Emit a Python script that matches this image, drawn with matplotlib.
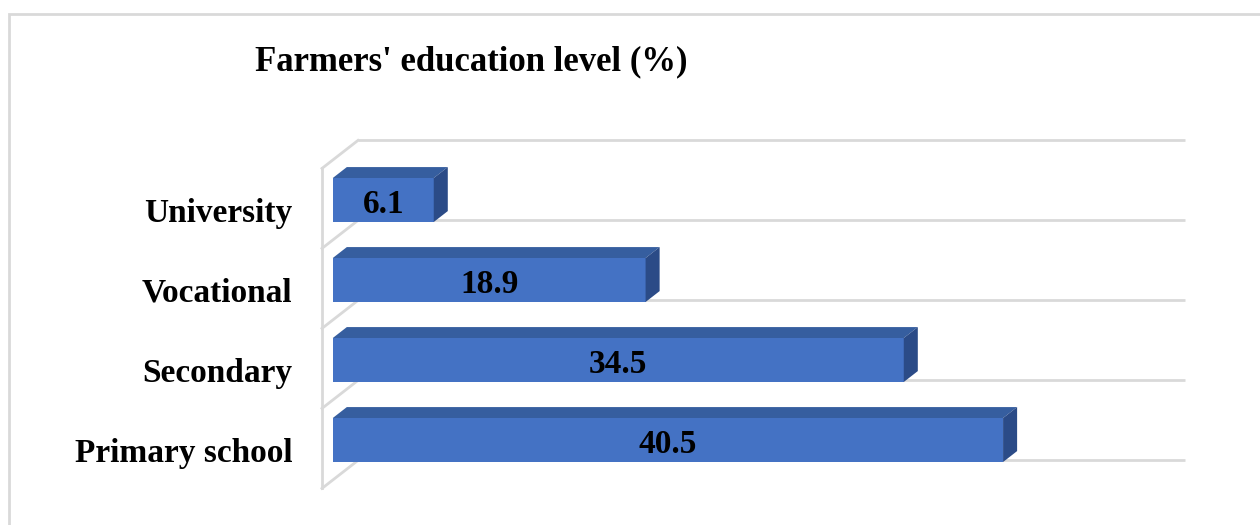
import matplotlib

matplotlib.use("Agg")
import matplotlib.pyplot as plt
from matplotlib.patches import Polygon, Rectangle

categories = ["Primary school", "Secondary", "Vocational", "University"]
values = [40.5, 34.5, 18.9, 6.1]
x_max = 50
title = "Farmers' education level (%)"

# pseudo 3D projection (data units): z=0 front wall, z=1 back wall
DX = 2.175
DY = 0.35
Z_FRONT = 0.30
Z_BACK = 0.69
BAR_H = 0.55

FRONT = "#4472C4"
TOP = "#365e9f"
SIDE = "#2b4b87"
GRID = "#d9d9d9"


def proj(x, y, z):
    return x + z * DX, y + z * DY


plt.rcParams["font.family"] = ["Liberation Serif", "DejaVu Serif"]
plt.rcParams["font.weight"] = "bold"

fig = plt.figure(figsize=(12.6, 5.25), dpi=100)
ax = fig.add_axes([0, 0, 1, 1])
ax.set_xlim(-19.456, 56.677)
ax.set_ylim(-0.9575, 5.605)
ax.axis("off")

# outer chart border
fig.patches.append(Rectangle((9 / 1260, -0.05), 1.2, 1 - 14 / 525 + 0.05,
                             transform=fig.transFigure, fill=False,
                             edgecolor=GRID, linewidth=2))

# gridlines: back wall + side wall
n = len(categories)
for k in range(n + 1):
    g = k - 0.5
    bx0, by0 = proj(0, g, 1)
    bx1, by1 = proj(x_max, g, 1)
    ax.plot([bx0, bx1], [by0, by1], color=GRID, lw=2, solid_capstyle="butt", zorder=1)
    fx, fy = proj(0, g, 0)
    ax.plot([fx, bx0], [fy, by0], color=GRID, lw=2, zorder=1)
x0, y0 = proj(0, -0.5, 0)
x1, y1 = proj(0, n - 0.5, 0)
ax.plot([x0, x1], [y0, y1], color=GRID, lw=2, zorder=1)

# bars
ypos = list(range(n))
fx0, fyo = proj(0, 0, Z_FRONT)
ax.barh([y + fyo for y in ypos], values, left=fx0, height=BAR_H,
        color=FRONT, edgecolor="none", zorder=3)
for y, v in zip(ypos, values):
    top = [proj(0, y + BAR_H / 2, Z_FRONT), proj(v, y + BAR_H / 2, Z_FRONT),
           proj(v, y + BAR_H / 2, Z_BACK), proj(0, y + BAR_H / 2, Z_BACK)]
    side = [proj(v, y - BAR_H / 2, Z_FRONT), proj(v, y + BAR_H / 2, Z_FRONT),
            proj(v, y + BAR_H / 2, Z_BACK), proj(v, y - BAR_H / 2, Z_BACK)]
    ax.add_patch(Polygon(top, closed=True, facecolor=TOP, edgecolor="none", zorder=4))
    ax.add_patch(Polygon(side, closed=True, facecolor=SIDE, edgecolor="none", zorder=4))
    cx, cy = proj(v / 2, y, Z_FRONT)
    ax.text(cx, cy - 0.06, f"{v:.1f}", ha="center", va="center",
            fontsize=24, fontweight="bold", color="black", zorder=5)

# category labels
for y, label in zip(ypos, categories):
    lx, ly = proj(-1.8, y, 0)
    ax.text(lx, ly - 0.06, label, ha="right", va="center",
            fontsize=24, fontweight="bold", color="black")

fig.text(471 / 1260, 1 - 62 / 525, title, ha="center", va="center",
         fontsize=25, fontweight="bold")

fig.savefig("out.png", dpi=100)
